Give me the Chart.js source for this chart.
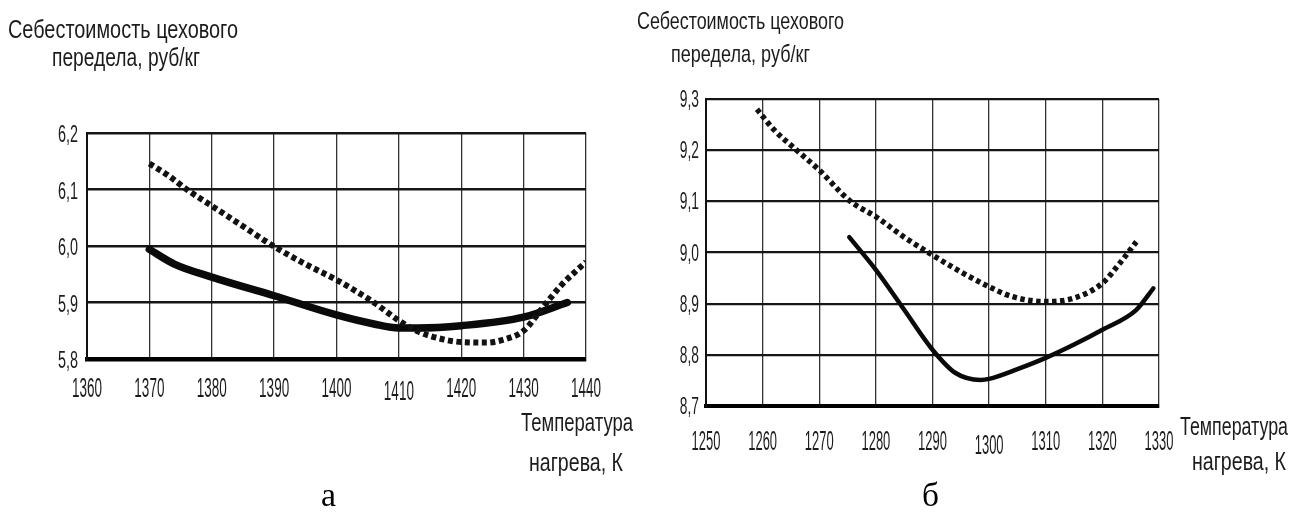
<!DOCTYPE html>
<html>
<head>
<meta charset="utf-8">
<script src="https://cdn.jsdelivr.net/npm/chart.js@4.4.1/dist/chart.umd.min.js"></script>
<style>
  html, body { margin:0; padding:0; background:#fff; }
  #wrap { position:relative; width:1293px; height:518px; overflow:hidden; background:#fff; }
  canvas { position:absolute; left:0; top:0; }
</style>
</head>
<body>
<div id="wrap">
  <canvas id="ca" width="1293" height="518"></canvas>
  <canvas id="cb" width="1293" height="518"></canvas>
</div>
<script>
// ---------- DATA: chart "а" ----------
const tempTicksA = [1360, 1370, 1380, 1390, 1400, 1410, 1420, 1430, 1440];
const costTicksA = [5.8, 5.9, 6.0, 6.1, 6.2];
const dottedTempA = [1370, 1373, 1376, 1380, 1385, 1390, 1395, 1400, 1406, 1410, 1413, 1417, 1420, 1424, 1427, 1430, 1433, 1436, 1440];
const dottedCostA = [6.146, 6.125, 6.10, 6.071, 6.035, 5.999, 5.968, 5.94, 5.90, 5.868, 5.849, 5.835, 5.830, 5.829, 5.835, 5.85, 5.89, 5.93, 5.972];
const solidTempA  = [1370, 1374, 1380, 1390, 1400, 1406, 1410, 1413, 1420, 1430, 1437];
const solidCostA  = [5.994, 5.968, 5.945, 5.912, 5.878, 5.862, 5.855, 5.855, 5.859, 5.874, 5.90];

// ---------- DATA: chart "б" ----------
const tempTicksB = [1250, 1260, 1270, 1280, 1290, 1300, 1310, 1320, 1330];
const costTicksB = [8.7, 8.8, 8.9, 9.0, 9.1, 9.2, 9.3];
const dottedTempB = [1259, 1262, 1266, 1270, 1275.5, 1280, 1285, 1290, 1295, 1300, 1304, 1310, 1315, 1320, 1323, 1326];
const dottedCostB = [9.28, 9.24, 9.2, 9.161, 9.10, 9.07, 9.03, 8.995, 8.962, 8.933, 8.914, 8.904, 8.911, 8.94, 8.978, 9.021];
const solidTempB  = [1275.3, 1280, 1285, 1290, 1294, 1298.5, 1300, 1305, 1310, 1315, 1320, 1326, 1329];
const solidCostB  = [9.03, 8.966, 8.888, 8.81, 8.765, 8.751, 8.753, 8.772, 8.794, 8.82, 8.849, 8.888, 8.93];

// ---------- TEXT ----------
const yTitle1 = 'Себестоимость цехового';
const yTitle2 = 'передела, руб/кг';
const xTitle1 = 'Температура';
const xTitle2 = 'нагрева, К';
const panelA = 'а';
const panelB = 'б';

const SANS = "'Liberation Sans', Arial, sans-serif";
const SERIF = "'Liberation Serif', 'Times New Roman', serif";

function pts(xs, ys) { return xs.map((x, i) => ({ x: x, y: ys[i] })); }
function fmt(v) { return v.toFixed(1).replace('.', ','); }

function drawScaled(ctx, text, x, y, font, align, sx) {
  ctx.save();
  ctx.font = font;
  ctx.textAlign = align;
  ctx.textBaseline = 'alphabetic';
  ctx.translate(x, y);
  ctx.scale(sx, 1);
  ctx.fillText(text, 0, 0);
  ctx.restore();
}
function drawFit(ctx, text, x, y, font, align, width) {
  ctx.save();
  ctx.font = font;
  const w0 = ctx.measureText(text).width;
  ctx.restore();
  drawScaled(ctx, text, x, y, font, align, width / w0);
}

const textPlugin = {
  id: 'texts',
  afterDraw(chart, args, o) {
    const ctx = chart.ctx;
    const xs = chart.scales.x, ys = chart.scales.y;
    ctx.save();
    ctx.fillStyle = '#1c1c1c';
    o.xTicks.forEach((v, i) => {
      drawScaled(ctx, String(v), xs.getPixelForValue(v), o.xTickBase + (o.xDrop[i] || 0),
        o.tickSize + 'px ' + SANS, 'center', o.tickSx);
    });
    o.yTicks.forEach(v => {
      drawScaled(ctx, fmt(v), o.yTickRight, ys.getPixelForValue(v) + o.yTickOff,
        o.yTickSize + 'px ' + SANS, 'right', o.yTickSx);
    });
    o.labels.forEach(l => {
      ctx.fillStyle = l.color || '#1c1c1c';
      drawFit(ctx, l.text, l.x, l.y, l.font, l.align, l.w);
    });
    ctx.restore();
  }
};

function makeChart(id, cfg) {
  return new Chart(document.getElementById(id), {
    type: 'line',
    data: {
      datasets: [
        { data: pts(cfg.dx, cfg.dy), borderColor: '#121212', borderWidth: cfg.dotW, borderDash: cfg.dash,
          borderCapStyle: 'butt', pointRadius: 0, cubicInterpolationMode: 'monotone', fill: false },
        { data: pts(cfg.sx, cfg.sy), borderColor: '#0a0a0a', borderWidth: cfg.solW,
          borderCapStyle: 'round', pointRadius: 0, cubicInterpolationMode: 'monotone', fill: false }
      ]
    },
    options: {
      responsive: false,
      animation: false,
      devicePixelRatio: 1,
      layout: { padding: cfg.pad },
      plugins: { legend: { display: false }, tooltip: { enabled: false }, texts: cfg.texts },
      scales: {
        x: { type: 'linear', min: cfg.xMin, max: cfg.xMax,
             ticks: { stepSize: 10, display: false },
             grid: { color: '#333', lineWidth: cfg.vGridW, drawTicks: false },
             border: { display: true, color: '#000', width: cfg.bottomW },
             afterFit(s) { s.height = 0; } },
        y: { type: 'linear', min: cfg.yMin, max: cfg.yMax,
             ticks: { stepSize: 0.1, display: false },
             grid: { color: '#161616', lineWidth: cfg.hGridW, drawTicks: false },
             border: { display: true, color: '#111', width: 2 },
             afterFit(s) { s.width = 0; } }
      }
    },
    plugins: [textPlugin]
  });
}

const titleFontA = '26px ' + SANS;
const titleFontB = '24px ' + SANS;

makeChart('ca', {
  dx: dottedTempA, dy: dottedCostA, sx: solidTempA, sy: solidCostA,
  dotW: 6, dash: [5, 3.5], solW: 7.5, vGridW: 1.3, hGridW: 2.5, bottomW: 4.5,
  xMin: 1360, xMax: 1440, yMin: 5.8, yMax: 6.2,
  pad: { left: 87, right: 1293 - 586, top: 133, bottom: 518 - 359 },
  texts: {
    xTicks: tempTicksA, xTickBase: 397, xDrop: [0, 0, 0, 0, 0, 3, 0, 0, 0], tickSize: 27, tickSx: 0.5,
    yTicks: costTicksA, yTickRight: 78, yTickOff: 9, yTickSize: 24, yTickSx: 0.6,
    labels: [
      { text: yTitle1, x: 8, y: 38, font: titleFontA, align: 'left', w: 230 },
      { text: yTitle2, x: 52, y: 66, font: titleFontA, align: 'left', w: 148 },
      { text: xTitle1, x: 521, y: 431, font: titleFontA, align: 'left', w: 112 },
      { text: xTitle2, x: 529, y: 471, font: titleFontA, align: 'left', w: 94 },
      { text: panelA, x: 321, y: 506, font: '34px ' + SERIF, align: 'left', w: 15, color: '#000' },
      { text: panelB, x: 922, y: 506, font: '34px ' + SERIF, align: 'left', w: 17, color: '#000' }
    ]
  }
});

makeChart('cb', {
  dx: dottedTempB, dy: dottedCostB, sx: solidTempB, sy: solidCostB,
  dotW: 5.5, dash: [4.5, 3.5], solW: 4.5, vGridW: 1.3, hGridW: 2.2, bottomW: 4,
  xMin: 1250, xMax: 1330, yMin: 8.7, yMax: 9.3,
  pad: { left: 706, right: 1293 - 1159, top: 99, bottom: 518 - 406 },
  texts: {
    xTicks: tempTicksB, xTickBase: 450, xDrop: [0, 0, 0, 0, 0, 4, 0, 0, 0], tickSize: 27, tickSx: 0.48,
    yTicks: costTicksB, yTickRight: 699, yTickOff: 8, yTickSize: 23, yTickSx: 0.6,
    labels: [
      { text: yTitle1, x: 637, y: 29, font: titleFontB, align: 'left', w: 207 },
      { text: yTitle2, x: 671, y: 62, font: titleFontB, align: 'left', w: 139 },
      { text: xTitle1, x: 1180, y: 435, font: titleFontA, align: 'left', w: 108 },
      { text: xTitle2, x: 1192, y: 470, font: titleFontA, align: 'left', w: 94 }
    ]
  }
});
</script>
</body>
</html>
